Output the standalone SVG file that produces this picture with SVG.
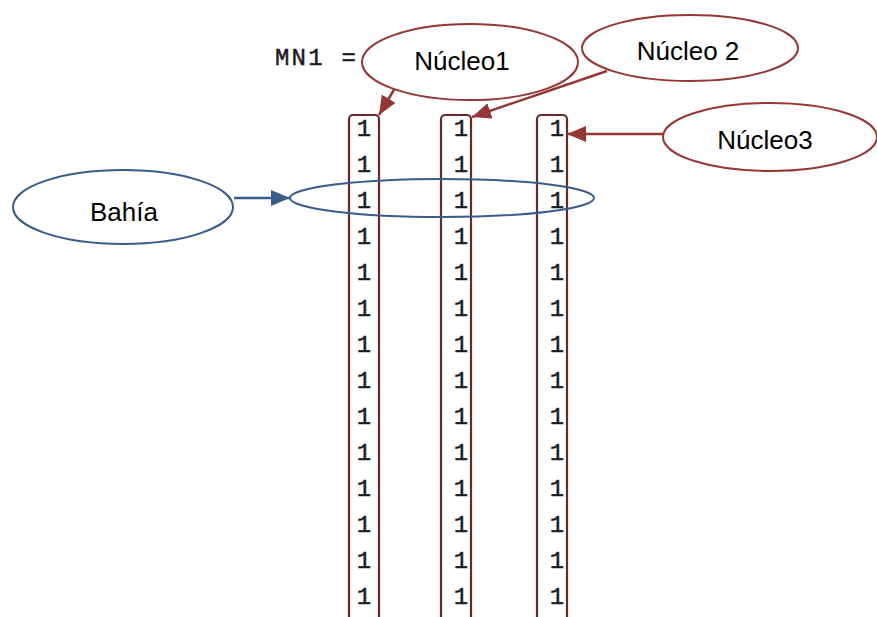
<svg xmlns="http://www.w3.org/2000/svg" width="877" height="617" viewBox="0 0 877 617">
  <style>
    .mono { font-family: "Liberation Mono", "DejaVu Sans Mono", monospace; font-size: 24px; fill: #1c1c24; stroke: #1c1c24; stroke-width: 0.45; }
    .label { font-family: "Liberation Sans", Arial, sans-serif; font-size: 26px; fill: #000; text-anchor: middle; }
    .red-ell { fill: #fff; stroke: #953735; stroke-width: 2; }
    .blue-ell { fill: #fff; stroke: #385d8a; stroke-width: 2; }
    .ring { fill: none; stroke: #385d8a; stroke-width: 2; }
    .col { fill: none; stroke: #6b2828; stroke-width: 2.2; }
    .red-arrow { stroke: #953735; stroke-width: 2.5; fill: none; marker-end: url(#head-red); }
    .blue-arrow { stroke: #385d8a; stroke-width: 2.5; fill: none; marker-end: url(#head-blue); }
  </style>
  <defs>
    <marker id="head-red" markerUnits="userSpaceOnUse" markerWidth="20" markerHeight="16" refX="19" refY="8" orient="auto">
      <path d="M0,0 L19,8 L0,16 Z" fill="#953735"/>
    </marker>
    <marker id="head-blue" markerUnits="userSpaceOnUse" markerWidth="20" markerHeight="16" refX="19" refY="8" orient="auto">
      <path d="M0,0 L19,8 L0,16 Z" fill="#385d8a"/>
    </marker>
  </defs>
  <rect width="877" height="617" fill="#fff"/>

  <!-- variable header -->
  <text class="mono" x="275" y="65" letter-spacing="2.2">MN1 =</text>

  <!-- matrix columns -->
  <g id="columns">
    <rect class="col" x="349" y="115" width="30" height="540" rx="4"/>
    <rect class="col" x="441" y="115" width="30" height="540" rx="4"/>
    <rect class="col" x="537" y="115" width="30" height="540" rx="4"/>
  </g>

  <g id="values" class="mono" text-anchor="middle">
    <text x="364" y="136">1</text><text x="461" y="136">1</text><text x="557" y="136">1</text>
    <text x="364" y="172">1</text><text x="461" y="172">1</text><text x="557" y="172">1</text>
    <text x="364" y="208">1</text><text x="461" y="208">1</text><text x="557" y="208">1</text>
    <text x="364" y="244">1</text><text x="461" y="244">1</text><text x="557" y="244">1</text>
    <text x="364" y="280">1</text><text x="461" y="280">1</text><text x="557" y="280">1</text>
    <text x="364" y="316">1</text><text x="461" y="316">1</text><text x="557" y="316">1</text>
    <text x="364" y="352">1</text><text x="461" y="352">1</text><text x="557" y="352">1</text>
    <text x="364" y="388">1</text><text x="461" y="388">1</text><text x="557" y="388">1</text>
    <text x="364" y="424">1</text><text x="461" y="424">1</text><text x="557" y="424">1</text>
    <text x="364" y="460">1</text><text x="461" y="460">1</text><text x="557" y="460">1</text>
    <text x="364" y="496">1</text><text x="461" y="496">1</text><text x="557" y="496">1</text>
    <text x="364" y="532">1</text><text x="461" y="532">1</text><text x="557" y="532">1</text>
    <text x="364" y="568">1</text><text x="461" y="568">1</text><text x="557" y="568">1</text>
    <text x="364" y="604">1</text><text x="461" y="604">1</text><text x="557" y="604">1</text>
  </g>

  <!-- row highlight ring -->
  <g id="bahia-ring">
    <ellipse class="ring" cx="442" cy="198" rx="152" ry="19"/>
  </g>

  <!-- connectors -->
  <g id="connectors">
    <line class="red-arrow" x1="398" y1="83" x2="379" y2="115"/>
    <line class="red-arrow" x1="607" y1="71" x2="472" y2="117"/>
    <line class="red-arrow" x1="663" y1="134" x2="567" y2="134"/>
    <line class="blue-arrow" x1="234" y1="198" x2="290" y2="198"/>
  </g>

  <g id="nucleo1">
    <ellipse class="red-ell" cx="470" cy="62" rx="108" ry="38"/>
    <text class="label" x="462" y="70">Núcleo1</text>
  </g>
  <g id="nucleo2">
    <ellipse class="red-ell" cx="690" cy="48" rx="108" ry="33"/>
    <text class="label" x="688" y="60">Núcleo 2</text>
  </g>
  <g id="nucleo3">
    <ellipse class="red-ell" cx="770" cy="137" rx="107" ry="34"/>
    <text class="label" x="765" y="149">Núcleo3</text>
  </g>
  <g id="bahia">
    <ellipse class="blue-ell" cx="123" cy="207" rx="110" ry="37"/>
    <text class="label" x="124" y="221" font-size="29">Bahía</text>
  </g>
</svg>
